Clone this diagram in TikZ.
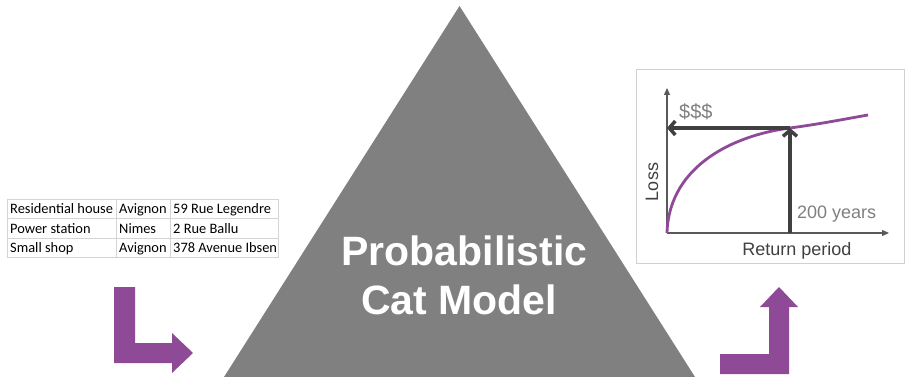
\documentclass[tikz,border=0pt]{standalone}
\usepackage{fontspec}
\setmainfont{Liberation Sans}
\newfontfamily\tablefont{Carlito}
\usetikzlibrary{arrows.meta}
\definecolor{trigray}{HTML}{808080}
\definecolor{purp}{HTML}{8E4A97}
\definecolor{darkarr}{HTML}{404040}
\definecolor{axisgray}{HTML}{595959}
\definecolor{lightlbl}{HTML}{7F7F7F}
\definecolor{gridgray}{HTML}{D4D4D4}
\definecolor{boxgray}{HTML}{D0D0D0}
\tikzset{
  cell/.style={anchor=base west, inner sep=0pt, font=\tablefont\fontsize{14.4}{16}\selectfont, text=black},
  gridline/.style={draw=gridgray, line width=1pt},
  purparrow/.style={fill=purp, draw=none},
  axisline/.style={draw=axisgray, line width=1.2pt, -{Triangle[length=7pt,width=6pt]}},
  readarrow/.style={draw=darkarr, line width=3.5pt, -{Straight Barb[length=6pt,width=14pt]}},
  chartlbl/.style={inner sep=0pt, font=\fontsize{18}{20}\selectfont},
  titlelbl/.style={anchor=base, inner sep=0pt, text=white, font=\bfseries\fontsize{41}{49}\selectfont}
}
\begin{document}
\begin{tikzpicture}[x=1pt,y=-1pt]
\useasboundingbox (0,0) rectangle (905,377);
% triangle
\fill[trigray] (459.5,6) -- (695,377) -- (224,377) -- cycle;
\node[titlelbl] (t1) at (464.5,265) {Probabilistic};
\node[titlelbl] (t2) at (459,314) {Cat Model};
% table
\foreach \yy in {199,218.5,238,257.5} \draw[gridline] (7,\yy) -- (278,\yy);
\foreach \xx in {7,116.7,170.7,278} \draw[gridline] (\xx,199) -- (\xx,257.5);
\node[cell] (c11) at (10,213.5) {Residential house};
\node[cell] (c12) at (119,213.5) {Avignon};
\node[cell] (c13) at (173,213.5) {59 Rue Legendre};
\node[cell] (c21) at (10,233) {Power station};
\node[cell] (c22) at (119,233) {Nimes};
\node[cell] (c23) at (173,233) {2 Rue Ballu};
\node[cell] (c31) at (10,252.5) {Small shop};
\node[cell] (c32) at (119,252.5) {Avignon};
\node[cell] (c33) at (173,252.5) {378 Avenue Ibsen};
% purple arrows
\fill[purparrow] (114,287) -- (135,287) -- (135,343) -- (172,343) -- (172,333) -- (193,353) -- (172,373) -- (172,363) -- (114,363) -- cycle;
\fill[purparrow] (720,354) -- (769,354) -- (769,307) -- (760,307) -- (779,287) -- (798,307) -- (789,307) -- (789,374) -- (720,374) -- cycle;
% chart box
\draw[draw=boxgray, line width=1pt] (636,69.5) rectangle (904,263);
\coordinate (o) at (667,233);
\coordinate (ytop) at (667,88);
\coordinate (xend) at (889,233);
\coordinate (rp) at (790,233);
\coordinate (hit) at (790,128);
\coordinate (lossend) at (667,128);
\draw[axisline] (o) -- (ytop);
\draw[axisline] (o) -- (xend);
\draw[purp, line width=2.8pt] (o) .. controls (669,165) and (735,135) .. (hit) .. controls (820,124) and (845,119) .. (868,115);
\draw[readarrow] (rp) -- (hit);
\draw[readarrow] (hit) -- (lossend);
\node[chartlbl, anchor=west, text=lightlbl, font=\fontsize{20}{22}\selectfont] (dollars) at (679,112) {\$\$\$};
\node[chartlbl, anchor=west, text=lightlbl] (yrs) at (797,214) {200 years};
\node[chartlbl, text=darkarr] (rplbl) at (797,251) {Return period};
\node[chartlbl, text=darkarr, rotate=90] (losslbl) at (652,182) {Loss};
\end{tikzpicture}
\end{document}
